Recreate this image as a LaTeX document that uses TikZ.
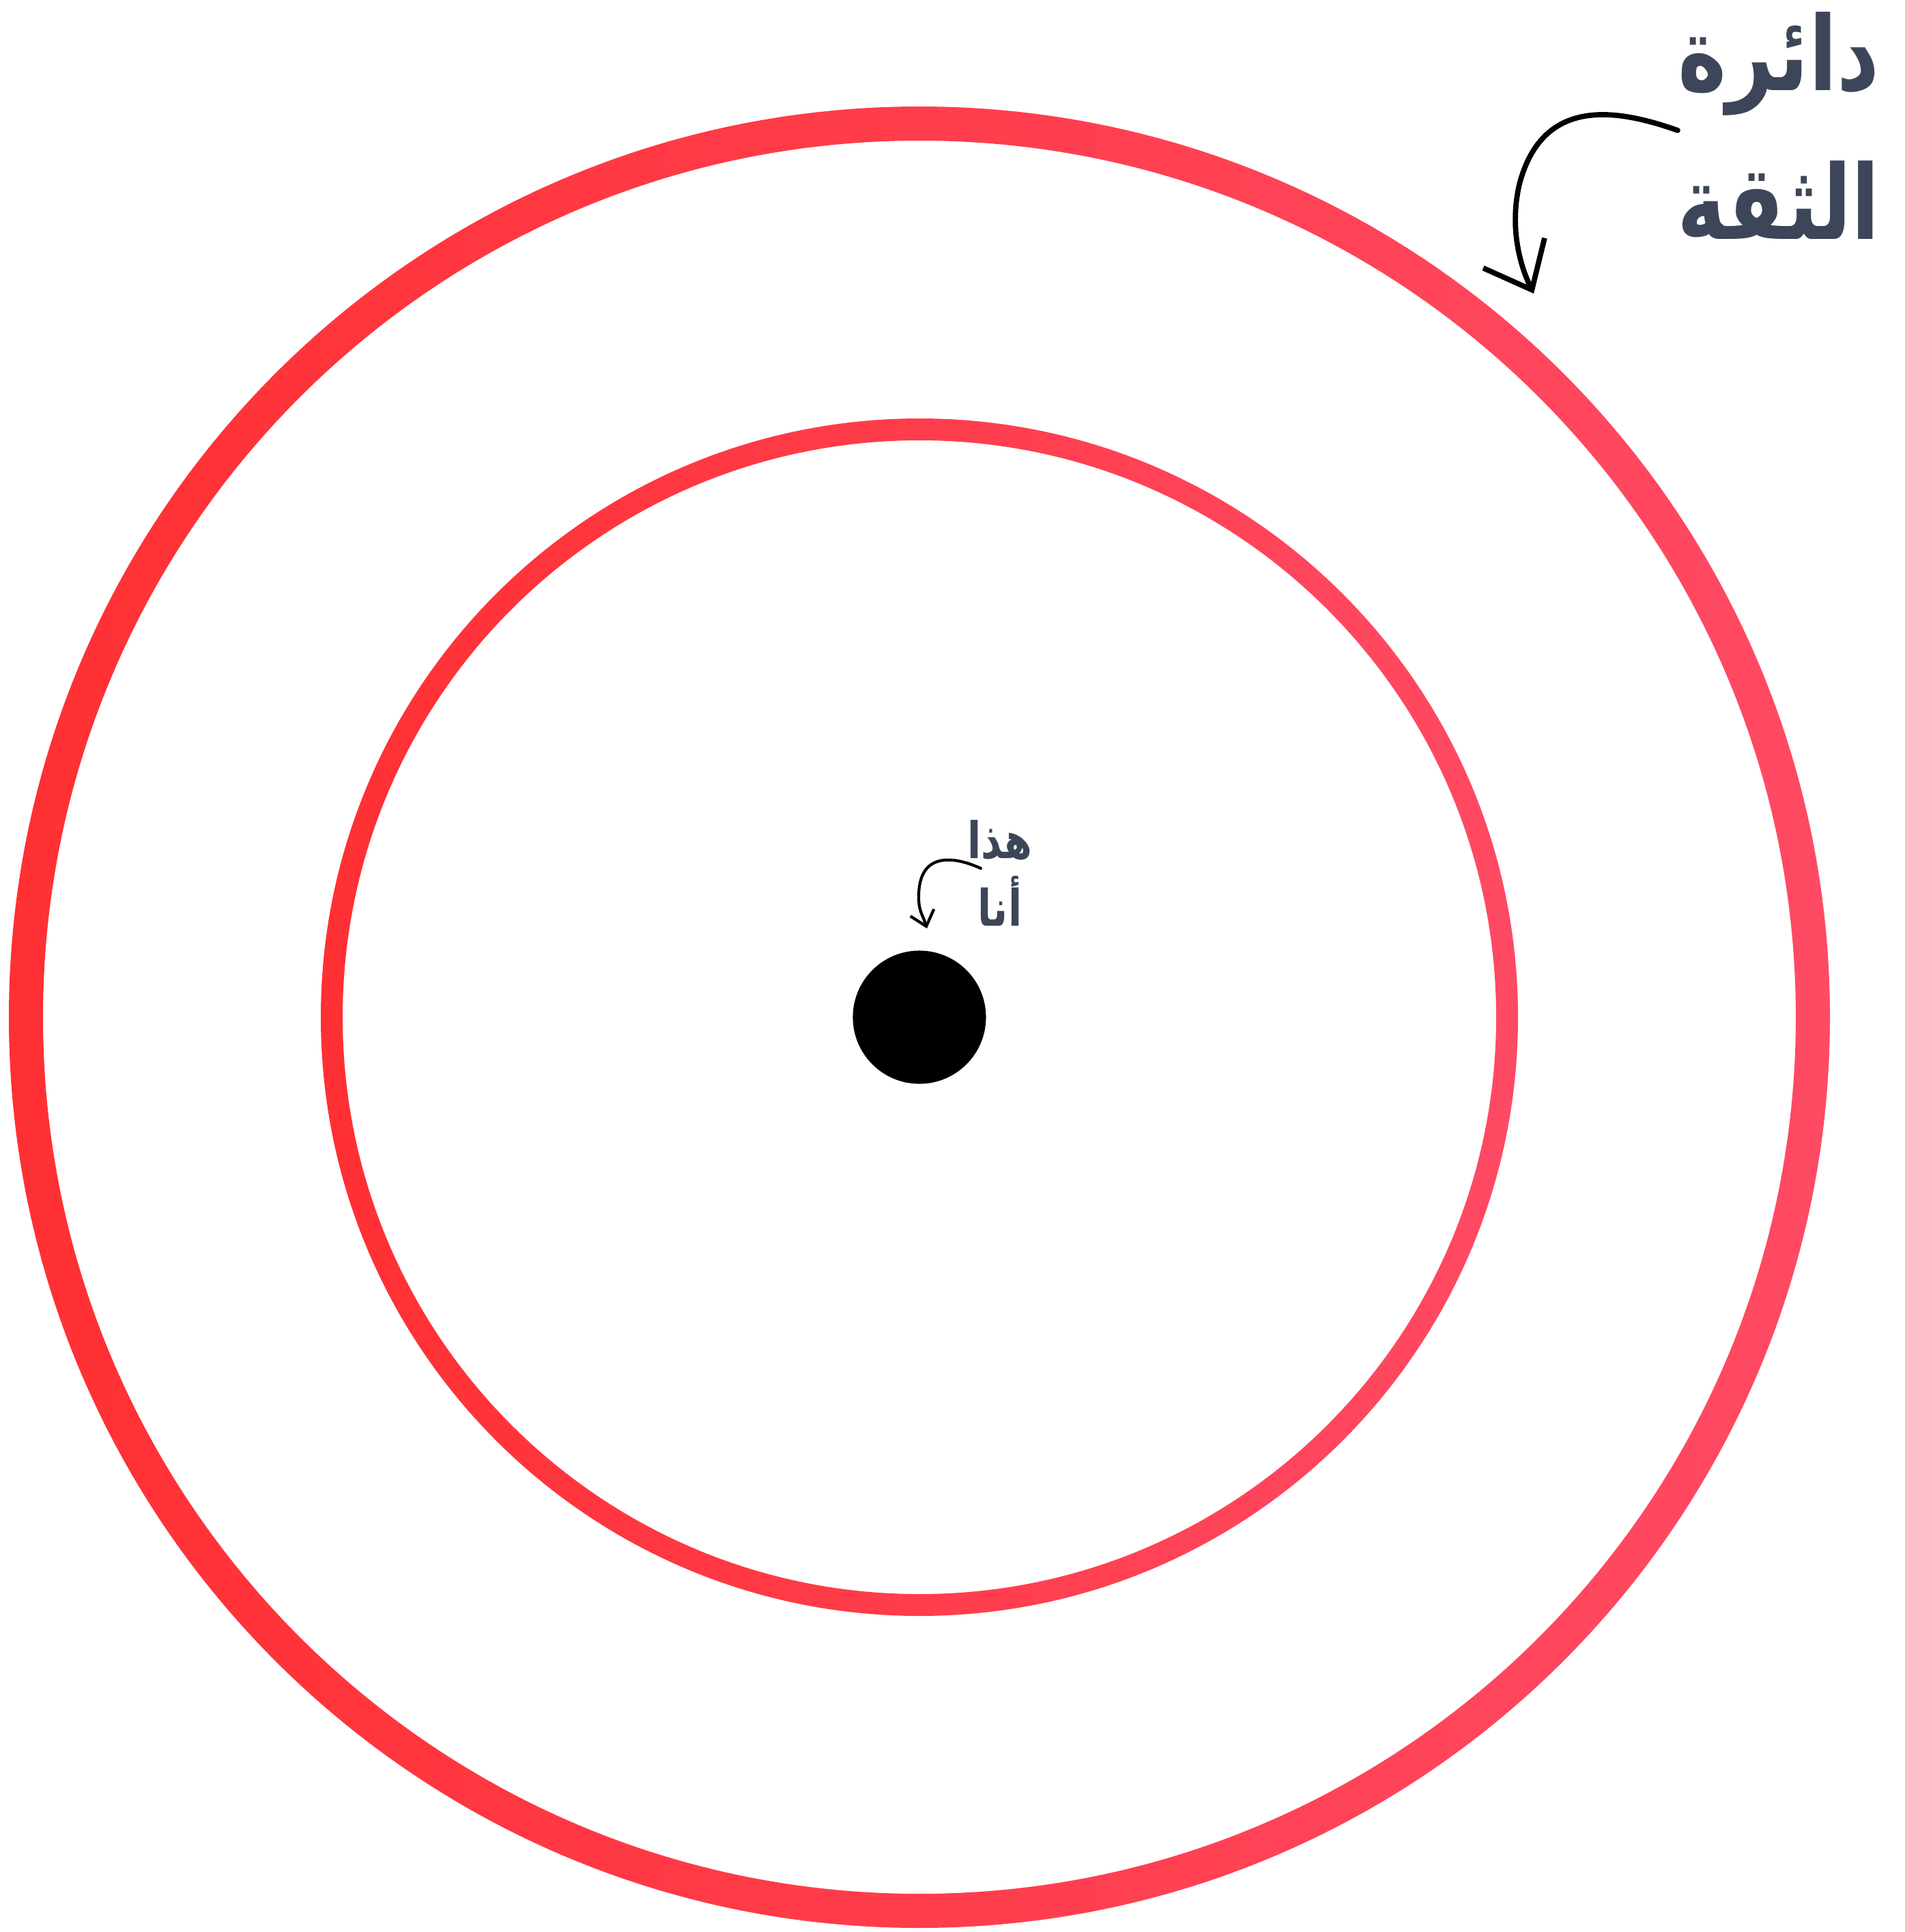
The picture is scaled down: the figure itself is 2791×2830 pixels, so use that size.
\documentclass[tikz,border=0pt]{standalone}
\usepackage{fontspec}
\usepackage{tikz}
\usetikzlibrary{arrows.meta, positioning}
\TeXXeTstate=1
\newfontfamily\arabicfont[Script=Arabic, FakeStretch=0.8]{DejaVu Sans}
\definecolor{ringLeft}{HTML}{FF3033}
\definecolor{ringRight}{HTML}{FF4A64}
\definecolor{labelText}{HTML}{3D4659}

\begin{document}
\begin{tikzpicture}[x=0.01cm, y=-0.01cm,
  ring/.style={left color=ringLeft, right color=ringRight, even odd rule},
  arlabel/.style={text=labelText, align=center, inner sep=0pt},
  pointer/.style={line width=2.2pt, line cap=round, line join=round, -{Straight Barb[length=0.6cm, width=1cm]}},
  smallpointer/.style={line width=1.2pt, line cap=round, line join=round, -{Straight Barb[length=0.21cm, width=0.36cm]}}
]
  \useasboundingbox (0,0) rectangle (2791,2830);

  \coordinate (centre) at (1347,1490);

  \shade[ring] (centre) circle (1334) (centre) circle (1284);
  \shade[ring] (centre) circle (877) (centre) circle (845);

  \node[circle, fill=black, minimum size=1.95cm, inner sep=0pt] (me) at (centre) {};

  \node[arlabel, font=\arabicfont\bfseries\fontsize{43}{62}\selectfont] (trust) at (2606,184)
    {\beginR دائرة\endR\\\beginR الثقة\endR};
  \node[arlabel, font=\arabicfont\bfseries\fontsize{21}{28}\selectfont] (thisme) at (1465,1279)
    {\beginR هذا\endR\\\beginR أنا\endR};

  \coordinate (trustFrom) at (2458,191);
  \coordinate (trustTo) at (2247,430);
  \coordinate (meFrom) at (1437,1272);
  \coordinate (meTo) at (1358,1360);

  \draw[pointer] (trustFrom) .. controls (2370,160) and (2260,140) .. (2226,270)
    .. controls (2212,330) and (2225,385) .. (trustTo);
  \draw[smallpointer] (meFrom) .. controls (1400,1255) and (1345,1245) .. (1346,1315)
    .. controls (1346,1335) and (1352,1340) .. (meTo);
\end{tikzpicture}
\end{document}
